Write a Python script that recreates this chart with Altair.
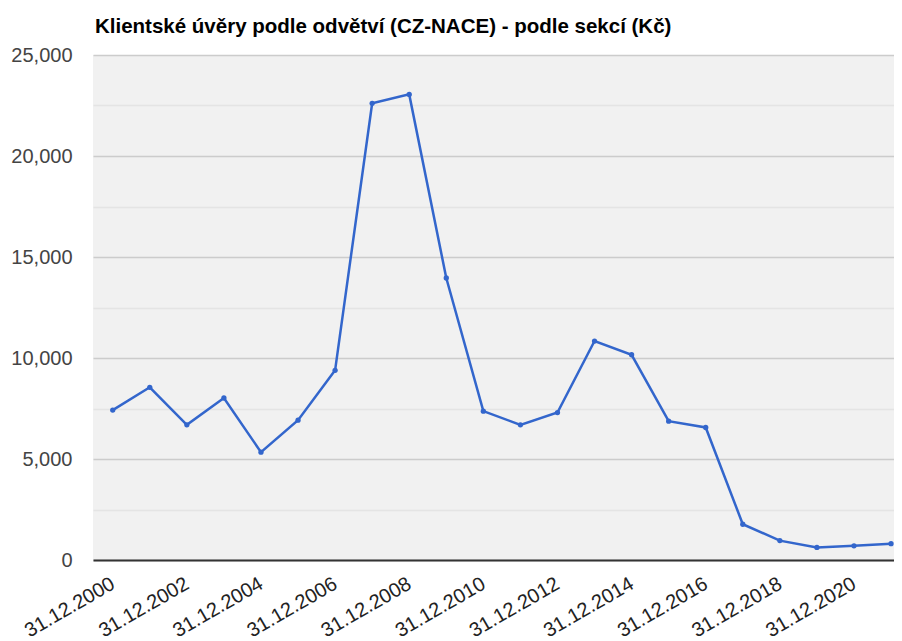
import altair as alt
import pandas as pd

years = list(range(2000, 2022))
labels = [f"31.12.{y}" for y in years]
values = [7420, 8550, 6690, 8020, 5340, 6920, 9390, 22610, 23050, 13960,
          7370, 6690, 7300, 10840, 10160, 6870, 6560, 1770, 960, 620, 700, 810]

df = pd.DataFrame({"idx": list(range(len(years))), "label": labels, "value": values})

y_ticks = list(range(0, 25001, 2500))
x_label_idx = list(range(0, len(years), 2))

label_expr = "'31.12.' + (2000 + datum.value)"

base = alt.Chart(df).encode(
    x=alt.X("idx:Q",
            scale=alt.Scale(domain=[-0.532, 21.08], nice=False, zero=False),
            axis=alt.Axis(values=x_label_idx, labelExpr=label_expr, title=None,
                          grid=False, ticks=False, labelAngle=330,
                          labelAlign="right", labelBaseline="middle",
                          labelPadding=22, labelFontSize=20, labelColor="#222",
                          labelFont="Liberation Sans", domainColor="#333",
                          domainWidth=2, labelOverlap=False, labelBound=False,
                          labelFlush=False)),
    y=alt.Y("value:Q",
            scale=alt.Scale(domain=[0, 25000], nice=False),
            axis=alt.Axis(values=y_ticks,
                          labelExpr="datum.value % 5000 === 0 ? format(datum.value, ',') : ''",
                          title=None, ticks=False, domain=False,
                          gridColor={"condition": {"test": "datum.value % 5000 === 0", "value": "#cccccc"},
                                     "value": "#e4e4e4"},
                          gridWidth=1.5,
                          labelFontSize=20, labelColor="#444",
                          labelFont="Liberation Sans", labelPadding=21)),
)

line = base.mark_line(color="#3366cc", strokeWidth=2.5)
pts = base.mark_circle(color="#3366cc", size=28, opacity=1)

chart = (line + pts).properties(
    width=801, height=505,
    title=alt.TitleParams("Klientské úvěry podle odvětví (CZ-NACE) - podle sekcí (Kč)",
                          anchor="start", frame="group", fontSize=20.5, font="Liberation Sans",
                          fontWeight="bold", color="#000", offset=8, dx=2),
    padding={"left": 85, "top": 47, "right": 0, "bottom": 80},
    autosize="none",
).configure_view(fill="#f1f1f1", stroke=None)

chart.save("out.html", embed_options={"renderer": "svg", "actions": False})
